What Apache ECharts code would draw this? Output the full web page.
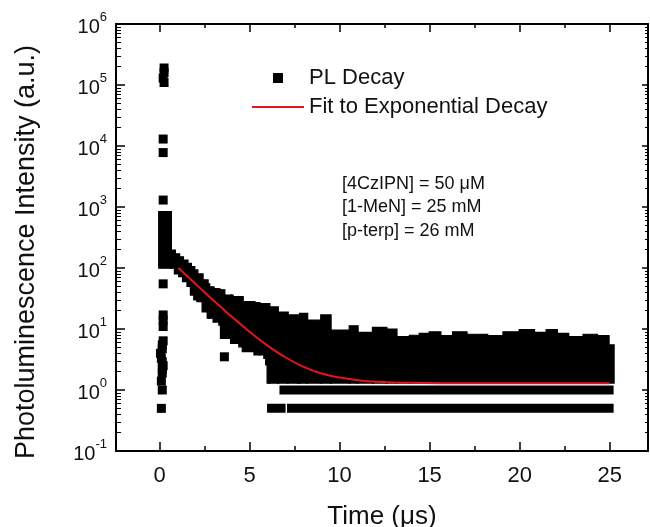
<!DOCTYPE html>
<html>
<head>
<meta charset="utf-8">
<script src="https://cdn.jsdelivr.net/npm/echarts@6/dist/echarts.min.js"></script>
<style>
  html, body { margin: 0; padding: 0; background: #fff; }
  #chart { width: 650px; height: 527px; }
</style>
</head>
<body>
<div id="chart"></div>
<script>
// 时间轴刻度 (µs)
var xMajor = [0, 5, 10, 15, 20, 25];
var xMinor = [2.5, 7.5, 12.5, 17.5, 22.5];
// 对数轴次刻度
var yDecades = [0.1, 1, 10, 100, 1000, 10000, 100000];
var yMantissa = [2, 3, 4, 5, 6, 7, 8, 9];

// 激发脉冲附近的离散点 (t, 强度)
var spikeT = [0.1, 0.15, 0.1, 0.15, 0.15, 0.2, 0.15, 0.1, 0.05, 0.15, 0.15, 0.2, 0.2, 0.2, 0.2, 0.2, 0.25, 0.2, 0.25, 0.25, 0.2, 0.2, 0.2, 3.6];
var spikeV = [0.5, 1.0, 1.4, 1.9, 2.2, 2.5, 2.9, 3.3, 4.0, 4.7, 5.5, 6.4, 11, 14, 17, 55, 1.1e5, 1.3e5, 1.6e5, 1.9e5, 7.8e3, 1.3e4, 1.3e3, 3.5];

// 密集数据区的上下轮廓 (每段从 cloudT[i] 到 cloudT[i+1])
var cloudT = [-0.02, 0.63, 0.85, 1.09, 1.3, 1.55, 1.74, 1.93, 2.1, 2.39, 2.67, 2.76, 3.0, 3.32, 3.41, 3.6, 3.97, 4.06, 4.43, 4.62,
  5.27, 5.55, 5.82, 5.92, 6.0, 6.1, 6.57, 7.12, 7.68, 7.8, 8.2, 8.98, 9.5, 10.56, 11.0, 11.85, 12.6, 13.16, 13.9, 14.45,
  15.0, 15.6, 16.3, 17.05, 18.2, 19.1, 20.0, 20.8, 21.5, 22.07, 22.7, 23.55, 24.3, 24.94, 25.22];
var cloudTop = [840, 197, 170, 153, 135, 119, 105, 93, 80, 64, 55, 49, 46, 44, 44, 36, 36, 34, 34, 28,
  27, 26, 26, 26, 26, 23, 19, 17, 15, 18, 14, 17, 9.6, 11.3, 8.8, 10.6, 10.0, 7.5, 7.9, 8.5,
  9.0, 7.8, 9.0, 8.2, 7.8, 9.0, 9.8, 8.8, 9.8, 8.5, 7.5, 8.2, 7.8, 5.5, 5.5];
var cloudBottom = [99, 99, 80, 72, 60, 50, 36, 30, 28, 19, 15, 15, 13, 11.6, 7.0, 7.0, 5.8, 5.8, 5.1, 4.25,
  3.75, 3.75, 3.3, 2.57, 1.3, 1.3, 1.3, 1.3, 1.3, 1.3, 1.3, 1.3, 1.3, 1.3, 1.3, 1.3, 1.3, 1.3, 1.3, 1.3,
  1.3, 1.3, 1.3, 1.3, 1.3, 1.3, 1.3, 1.3, 1.3, 1.3, 1.3, 1.3, 1.3, 1.3, 1.3];

// 低计数的两行 (强度 1 和 0.5)
var rowOneT = [6.66, 25.22];
var rowHalfT = [5.97, 7.0, 7.08, 25.22];

// 指数拟合曲线
var fitT = [1.05, 1.25, 1.5, 1.75, 2, 2.5, 3, 3.5, 4, 4.5, 5, 6, 7, 8, 9, 10, 11, 12, 14, 16, 20, 25];
var fitV = [100, 88, 75.2, 64.3, 54.8, 40.0, 29.3, 21.6, 16.0, 12.0, 9.0, 5.34, 3.41, 2.40, 1.87, 1.60, 1.45, 1.37, 1.31, 1.295, 1.29, 1.29];

var FONT = "Liberation Sans, Arial, sans-serif";

var chart = echarts.init(document.getElementById("chart"));

function pairs(xs, ys) {
    return xs.map(function(x, i) { return [x, ys[i]]; });
}

var yMinor = [];
yDecades.forEach(function(d) {
    yMantissa.forEach(function(m) { yMinor.push(+(d * m).toPrecision(3)); });
});

// 每个台阶段: [t0, t1, 下沿, 上沿]
var cloudSteps = [];
for (var i = 0; i < cloudT.length - 1; i++) {
    cloudSteps.push([cloudT[i], cloudT[i + 1], cloudBottom[i], cloudTop[i]]);
}

function xAxisBase(pos, ticks, len, main, showLabel) {
    return {
        type: "value", position: pos, min: -2.42, max: 27.13,
        axisLine: { show: main, onZero: false, lineStyle: { color: "#000", width: 2 } },
        axisTick: { show: true, inside: true, length: len, customValues: ticks, lineStyle: { color: "#000", width: 1.5 } },
        axisLabel: { show: showLabel, customValues: ticks, margin: 14, fontSize: 22, color: "#111", fontFamily: FONT },
        splitLine: { show: false }
    };
}

function yAxisBase(pos, showLabel, len, minor) {
    var ax = {
        type: "log", logBase: 10, position: pos, min: 0.1, max: 1e6,
        axisLine: { show: !minor, onZero: false, lineStyle: { color: "#000", width: 2 } },
        axisTick: { show: true, inside: true, length: len, lineStyle: { color: "#000", width: minor ? 1 : 1.5 } },
        axisLabel: {
            show: showLabel, margin: 9,
            formatter: function(v) {
                return "{b|10}{s|" + Math.round(Math.log10(v)) + "}";
            },
            rich: {
                b: { fontSize: 20, lineHeight: 26, verticalAlign: "bottom", color: "#111", fontFamily: FONT },
                s: { fontSize: 13, lineHeight: 13, verticalAlign: "top", color: "#111", fontFamily: FONT }
            }
        },
        splitLine: { show: false }
    };
    if (minor) {
        ax.axisTick.customValues = yMinor;
    }
    return ax;
}

var xAxes = [
    xAxisBase("bottom", xMajor, 9, true, true),
    xAxisBase("bottom", xMinor, 5, false, false),
    xAxisBase("top", xMajor, 8, true, false),
    xAxisBase("top", xMinor, 4, false, false)
];
xAxes[0].name = "Time (μs)";
xAxes[0].nameLocation = "middle";
xAxes[0].nameGap = 53;
xAxes[0].nameTextStyle = { fontSize: 26, color: "#111", fontFamily: FONT };

var yAxes = [
    yAxisBase("left", true, 9, false),
    yAxisBase("left", false, 5, true),
    yAxisBase("right", false, 6, false),
    yAxisBase("right", false, 3, true)
];
yAxes[0].name = "Photoluminescence Intensity (a.u.)";
yAxes[0].nameLocation = "middle";
yAxes[0].nameGap = 76;
yAxes[0].nameTextStyle = { fontSize: 27, color: "#111", fontFamily: FONT, padding: [0, 29, 0, 0] };

chart.setOption({
    animation: false,
    grid: { left: 116, right: 2, top: 24, bottom: 76, outerBoundsMode: "none" },
    legend: {
        orient: "vertical", left: 252, top: 67, padding: 0,
        itemWidth: 52, itemHeight: 10, itemGap: 7,
        textStyle: { fontSize: 22, color: "#111", fontFamily: FONT },
        data: [
            { name: "PL Decay", icon: "path://M0,0M52,10M21,0h10v10h-10z" },
            { name: "Fit to Exponential Decay", icon: "path://M0,0M52,10M0,4h52v2h-52z" }
        ]
    },
    graphic: [{
        type: "text", left: 342, top: 172,
        style: {
            text: "[4CzIPN] = 50 μM\n[1-MeN] = 25 mM\n[p-terp] = 26 mM",
            font: "18px " + FONT, fill: "#111", lineHeight: 23.5
        }
    }],
    xAxis: xAxes,
    yAxis: yAxes,
    series: [
        {
            name: "cloud", type: "custom", silent: true, z: 2,
            data: cloudSteps,
            encode: { x: [0, 1], y: [2, 3] },
            renderItem: function(params, api) {
                var p0 = api.coord([api.value(0), api.value(3)]);
                var p1 = api.coord([api.value(1), api.value(2)]);
                return {
                    type: "rect",
                    shape: { x: p0[0] - 0.5, y: p0[1], width: p1[0] - p0[0] + 1, height: p1[1] - p0[1] },
                    style: { fill: "#000", stroke: "#000", lineWidth: 1.2 }
                };
            }
        },
        {
            name: "rowOne", type: "line", data: pairs(rowOneT, [1, 1]), symbol: "none", silent: true,
            lineStyle: { width: 9, color: "#000", cap: "butt" }, z: 3
        },
        {
            name: "rowHalf", type: "line", symbol: "none", silent: true,
            data: [[rowHalfT[0], 0.5], [rowHalfT[1], 0.5], [rowHalfT[1], "-"], [rowHalfT[2], 0.5], [rowHalfT[3], 0.5]],
            lineStyle: { width: 9, color: "#000", cap: "butt" }, z: 3
        },
        {
            name: "PL Decay", type: "scatter", data: pairs(spikeT, spikeV),
            symbol: "rect", symbolSize: 9, itemStyle: { color: "#000", opacity: 1 }, z: 4
        },
        {
            name: "Fit to Exponential Decay", type: "line", data: pairs(fitT, fitV),
            smooth: 0.4, symbol: "none",
            lineStyle: { width: 2, color: "#e8141c" }, itemStyle: { color: "#e8141c" }, z: 5
        }
    ]
});

window.addEventListener("resize", function() {
    chart.resize();
});
</script>
</body>
</html>
